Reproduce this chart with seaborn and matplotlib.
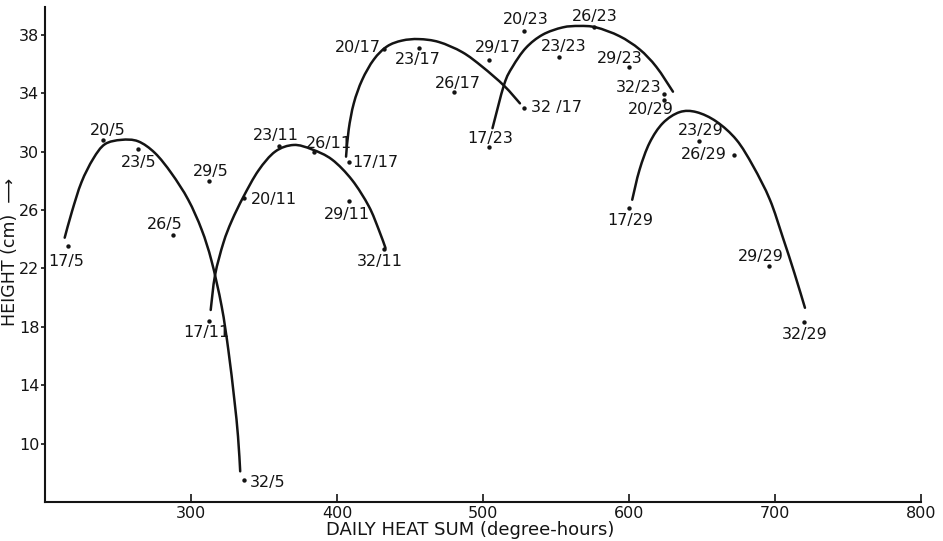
import matplotlib
matplotlib.use("Agg")
import matplotlib.pyplot as plt
from matplotlib.path import Path
from matplotlib.patches import PathPatch
import numpy as np
import pandas as pd
import seaborn as sns

# ---- measured plants: day temperature / night temperature ----
day_temps = [17, 20, 23, 26, 29, 32]
night_temps = [5, 11, 17, 23, 29]

heat_5 = [216, 240, 264, 288, 312, 336]
height_5 = [23.5, 30.8, 30.2, 24.3, 28.0, 7.5]

heat_11 = [312, 336, 360, 384, 408, 432]
height_11 = [18.4, 26.8, 30.35, 30.0, 26.6, 23.3]

heat_17 = [408, 432, 456, 480, 504, 528]
height_17 = [29.25, 37.0, 37.1, 34.05, 36.3, 33.0]

heat_23 = [504, 528, 552, 576, 600, 624]
height_23 = [30.3, 38.27, 36.5, 38.5, 35.76, 33.96]

heat_29 = [600, 624, 648, 672, 696, 720]
height_29 = [26.1, 33.55, 30.74, 29.78, 22.18, 18.36]

# ---- hand-fitted trend curves (knots along each curve) ----
curve_5_x = [213.5, 218.5, 225.0, 233.0, 241.0, 252.3, 263.8, 275.3, 286.7, 298.1,
             307.3, 314.1, 321.0, 325.6, 329.7, 332.2, 333.7]
curve_5_y = [24.1, 25.9, 27.9, 29.5, 30.5, 30.8, 30.7, 29.9, 28.5, 26.7,
             24.65, 22.5, 19.4, 16.4, 13.0, 10.5, 8.1]

curve_11_x = [313.5, 316.5, 322.2, 327.9, 335.9, 346.2, 357.7, 370.3, 382.8, 396.6,
              410.3, 421.8, 428.6, 433.2]
curve_11_y = [19.15, 21.55, 23.75, 25.25, 26.9, 28.7, 30.0, 30.45, 30.15, 29.45,
              28.05, 26.25, 24.65, 23.4]

curve_17_x = [406.2, 408.0, 411.5, 417.2, 425.2, 434.3, 444.6, 456.1, 469.8, 485.9,
              499.6, 514.5, 525.3]
curve_17_y = [29.65, 31.5, 33.3, 34.9, 36.3, 37.2, 37.6, 37.7, 37.5, 36.8,
              35.8, 34.5, 33.3]

curve_23_x = [506.5, 514.5, 520.2, 529.4, 540.8, 554.5, 566.0, 577.5, 593.5,
              607.2, 618.7, 630.1]
curve_23_y = [31.6, 34.6, 35.8, 37.1, 38.0, 38.5, 38.6, 38.5, 37.9,
              37.0, 35.8, 34.1]

curve_29_x = [602.2, 607.2, 614.1, 623.2, 634.7, 646.2, 659.9, 673.6, 685.0, 696.5,
              705.4, 713.3, 720.5]
curve_29_y = [26.7, 28.75, 30.6, 31.95, 32.7, 32.7, 32.05, 30.8, 29.0, 26.7,
              24.1, 21.67, 19.3]

x_ticks = [300, 400, 500, 600, 700, 800]
y_ticks = [10, 14, 18, 22, 26, 30, 34, 38]

groups = [
    (5, heat_5, height_5, curve_5_x, curve_5_y),
    (11, heat_11, height_11, curve_11_x, curve_11_y),
    (17, heat_17, height_17, curve_17_x, curve_17_y),
    (23, heat_23, height_23, curve_23_x, curve_23_y),
    (29, heat_29, height_29, curve_29_x, curve_29_y),
]

rows = []
for night, hx, hy, _, _ in groups:
    for d, x, y in zip(day_temps, hx, hy):
        rows.append({"label": f"{d}/{night}", "heat": x, "height": y})
points = pd.DataFrame(rows)

# label placement: (alignment, dx, dy) in pixels, dy positive = downwards
label_place = {
    "17/5": ("center", -2, 15), "20/5": ("center", 4, -9), "23/5": ("center", 0, 14),
    "26/5": ("center", -9, -10), "29/5": ("center", 2, -9), "32/5": ("left", 6, 2),
    "17/11": ("center", -2, 12), "20/11": ("left", 7, 1), "23/11": ("center", -3, -11),
    "26/11": ("center", 15, -8), "29/11": ("center", -2, 13), "32/11": ("center", -4, 12),
    "17/17": ("left", 4, 0), "20/17": ("right", -3, -2), "23/17": ("center", -1, 12),
    "26/17": ("center", 4, -9), "29/17": ("center", 9, -12), "32/17": ("left", 7, 0),
    "17/23": ("center", 1, -9), "20/23": ("center", 2, -11), "23/23": ("center", 5, -10),
    "26/23": ("center", 1, -11), "29/23": ("center", -9, -9), "32/23": ("right", -3, -6),
    "17/29": ("center", 1, 12), "20/29": ("center", -13, 10), "23/29": ("center", 2, -10),
    "26/29": ("right", -7, 0), "29/29": ("center", -8, -9), "32/29": ("center", 0, 13),
}
label_text = {"32/17": "32 /17"}

sns.set_theme(style="ticks")
plt.rcParams["font.family"] = ["DejaVu Sans"]
INK = "#141414"

fig = plt.figure(figsize=(9.43, 5.41), dpi=100)
ax = fig.add_axes([0.0477, 0.0721, 0.9290, 0.9150])


def smooth_path(xs, ys):
    """Catmull-Rom curve through the knots, expressed as cubic Bezier segments."""
    p = np.column_stack([xs, ys]).astype(float)
    n = len(p)
    verts = [p[0]]
    codes = [Path.MOVETO]
    for i in range(n - 1):
        p0 = p[i - 1] if i > 0 else p[i]
        p1, p2 = p[i], p[i + 1]
        p3 = p[i + 2] if i + 2 < n else p[i + 1]
        c1 = p1 + (p2 - p0) / 6.0
        c2 = p2 - (p3 - p1) / 6.0
        verts += [c1, c2, p2]
        codes += [Path.CURVE4] * 3
    return Path(verts, codes)


for night, hx, hy, cx, cy in groups:
    ax.add_patch(PathPatch(smooth_path(cx, cy), fill=False, edgecolor=INK,
                           linewidth=1.8, capstyle="round"))

sns.scatterplot(data=points, x="heat", y="height", ax=ax, color=INK, s=10,
                edgecolor=INK, linewidth=0, legend=False, zorder=3)

for _, r in points.iterrows():
    ha, dx, dy = label_place[r["label"]]
    ax.annotate(label_text.get(r["label"], r["label"]), (r["heat"], r["height"]),
                xytext=(dx, -dy), textcoords="offset pixels", ha=ha, va="center",
                fontsize=11.5, color=INK)

ax.set_xlim(200, 800)
ax.set_ylim(6, 39.9)
ax.set_xticks(x_ticks)
ax.set_yticks(y_ticks)
ax.tick_params(axis="x", direction="in", length=6, width=1.2, labelsize=11.5,
               colors=INK, pad=3)
ax.tick_params(axis="y", direction="out", length=3, width=1.2, labelsize=11.5,
               colors=INK, pad=1)
sns.despine(ax=ax)
for side in ("left", "bottom"):
    ax.spines[side].set_linewidth(1.5)
    ax.spines[side].set_color(INK)

ax.set_xlabel("DAILY HEAT SUM (degree-hours)", fontsize=13, color=INK,
              va="center")
ax.xaxis.set_label_coords(0.485, -0.056)
ax.set_ylabel("HEIGHT (cm)  \u27f6", fontsize=12.5, color=INK, va="center")
ax.yaxis.set_label_coords(-0.040, 0.505)

fig.savefig("out.png", dpi=100, facecolor="white")
